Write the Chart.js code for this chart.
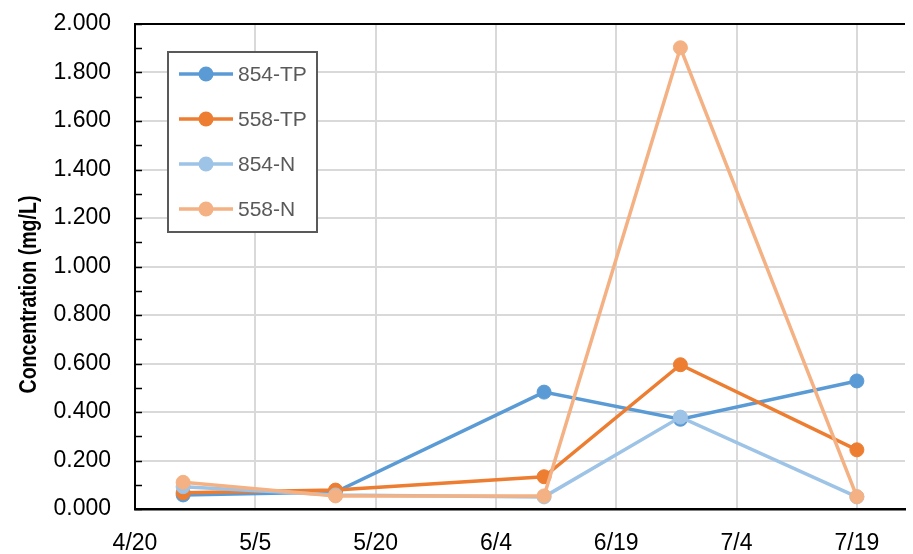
<!DOCTYPE html>
<html>
<head>
<meta charset="utf-8">
<script src="https://cdn.jsdelivr.net/npm/chart.js@4"></script>
<style>
  html, body { margin: 0; padding: 0; background: #fff; }
  #wrap { width: 913px; height: 554px; }
</style>
</head>
<body>
<div id="wrap"><canvas id="chart" width="913" height="554"></canvas></div>
<script>
// sample dates (M/D) and the date axis ticks
const sampleDates = ['4/26', '5/15', '6/10', '6/27', '7/19'];
const xTickLabels = ['4/20', '5/5', '5/20', '6/4', '6/19', '7/4', '7/19'];
const axisEnd = '7/25';

// concentrations in mg/L
const tp854 = [0.058, 0.070, 0.482, 0.370, 0.528];
const tp558 = [0.067, 0.078, 0.133, 0.595, 0.244];
const n854 = [0.092, 0.058, 0.050, 0.379, 0.050];
const n558 = [0.110, 0.054, 0.054, 1.902, 0.051];

const yTicks = [0, 0.2, 0.4, 0.6, 0.8, 1.0, 1.2, 1.4, 1.6, 1.8, 2.0];
const yTitle = 'Concentration (mg/L)';

// days since 4/20
function dayOffset(md) {
    const [m, d] = md.split('/').map(Number);
    return (Date.UTC(2001, m - 1, d) - Date.UTC(2001, 3, 20)) / 86400000;
}

function points(values) {
    return values.map((v, i) => ({ x: dayOffset(sampleDates[i]), y: v }));
}

const series = [
    { label: '854-TP', data: tp854, color: '#5B9BD5', order: 4 },
    { label: '558-TP', data: tp558, color: '#ED7D31', order: 3 },
    { label: '854-N', data: n854, color: '#9DC3E6', order: 2 },
    { label: '558-N', data: n558, color: '#F4B183', order: 1 }
];

const FONT = "'Liberation Sans', Arial, sans-serif";

// small inward tick marks every 0.1 on the value axis
const minorTicks = {
    id: 'minorTicks',
    beforeDatasetsDraw(chart) {
        const y = chart.scales.y;
        const left = chart.chartArea.left;
        const ctx = chart.ctx;
        ctx.save();
        ctx.strokeStyle = '#000';
        ctx.lineWidth = 1.5;
        for (let i = 0; i <= 20; i++) {
            const py = Math.round(y.getPixelForValue(i / 10)) + 0.5;
            ctx.beginPath();
            ctx.moveTo(left, py);
            ctx.lineTo(left + 7, py);
            ctx.stroke();
        }
        ctx.restore();
    }
};

// bold, slightly condensed axis title
const axisTitle = {
    id: 'axisTitle',
    afterDraw(chart) {
        const ctx = chart.ctx;
        const area = chart.chartArea;
        ctx.save();
        ctx.font = 'bold 23px ' + FONT;
        const w = ctx.measureText(yTitle).width;
        ctx.translate(36, (area.top + area.bottom) / 2 + 28);
        ctx.rotate(-Math.PI / 2);
        ctx.scale(198 / w, 1);
        ctx.fillStyle = '#000';
        ctx.textAlign = 'center';
        ctx.textBaseline = 'alphabetic';
        ctx.fillText(yTitle, 0, 0);
        ctx.restore();
    }
};

// boxed legend inside the plot area, like the original
const boxLegend = {
    id: 'boxLegend',
    afterDraw(chart) {
        const ctx = chart.ctx;
        const area = chart.chartArea;
        const x0 = area.left + 33;
        const y0 = area.top + 28;
        const w = 149;
        const h = 180;
        ctx.save();
        ctx.fillStyle = '#fff';
        ctx.fillRect(x0, y0, w, h);
        ctx.strokeStyle = '#595959';
        ctx.lineWidth = 2;
        ctx.strokeRect(x0, y0, w, h);
        ctx.font = '21px ' + FONT;
        ctx.textBaseline = 'middle';
        series.forEach((s, i) => {
            const cy = y0 + 22 + i * 45;
            ctx.strokeStyle = s.color;
            ctx.lineWidth = 3.5;
            ctx.beginPath();
            ctx.moveTo(x0 + 11, cy);
            ctx.lineTo(x0 + 65, cy);
            ctx.stroke();
            ctx.fillStyle = s.color;
            ctx.beginPath();
            ctx.arc(x0 + 38, cy, 7.5, 0, Math.PI * 2);
            ctx.fill();
            ctx.fillStyle = '#595959';
            ctx.fillText(s.label, x0 + 70, cy + 1);
        });
        ctx.restore();
    }
};

new Chart(document.getElementById('chart'), {
    type: 'line',
    data: {
        datasets: series.map(s => ({
            label: s.label,
            data: points(s.data),
            borderColor: s.color,
            backgroundColor: s.color,
            pointBackgroundColor: s.color,
            pointBorderColor: s.color,
            borderWidth: 3.5,
            pointRadius: 7,
            pointBorderWidth: 1,
            tension: 0,
            order: s.order
        }))
    },
    options: {
        responsive: false,
        animation: false,
        layout: { padding: { top: 24, right: 0, left: 0, bottom: 0 } },
        plugins: {
            legend: { display: false },
            tooltip: { enabled: false }
        },
        scales: {
            x: {
                type: 'linear',
                min: 0,
                max: dayOffset(axisEnd),
                afterBuildTicks: scale => {
                    scale.ticks = xTickLabels.map(t => ({ value: dayOffset(t) }));
                },
                afterFit: scale => {
                    scale.height = 45;
                    scale.paddingLeft = 0;
                    scale.paddingRight = 0;
                },
                ticks: {
                    callback: (v, i) => xTickLabels[i],
                    color: '#000',
                    font: { family: FONT, size: 23 },
                    padding: 21,
                    maxRotation: 0
                },
                grid: { color: '#d9d9d9', lineWidth: 2, drawTicks: false },
                border: { color: '#000', width: 2.5 }
            },
            y: {
                min: 0,
                max: 2,
                afterBuildTicks: scale => {
                    scale.ticks = yTicks.map(v => ({ value: v }));
                },
                afterFit: scale => {
                    scale.width = 135;
                    scale.paddingTop = 0;
                    scale.paddingBottom = 0;
                },
                ticks: {
                    callback: v => v.toFixed(3),
                    color: '#000',
                    font: { family: FONT, size: 23 },
                    padding: 24
                },
                grid: {
                    color: c => (c.tick && c.tick.value === 2 ? '#000' : '#d9d9d9'),
                    lineWidth: 2,
                    drawTicks: false
                },
                border: { color: '#000', width: 2 }
            }
        }
    },
    plugins: [minorTicks, axisTitle, boxLegend]
});
</script>
</body>
</html>
